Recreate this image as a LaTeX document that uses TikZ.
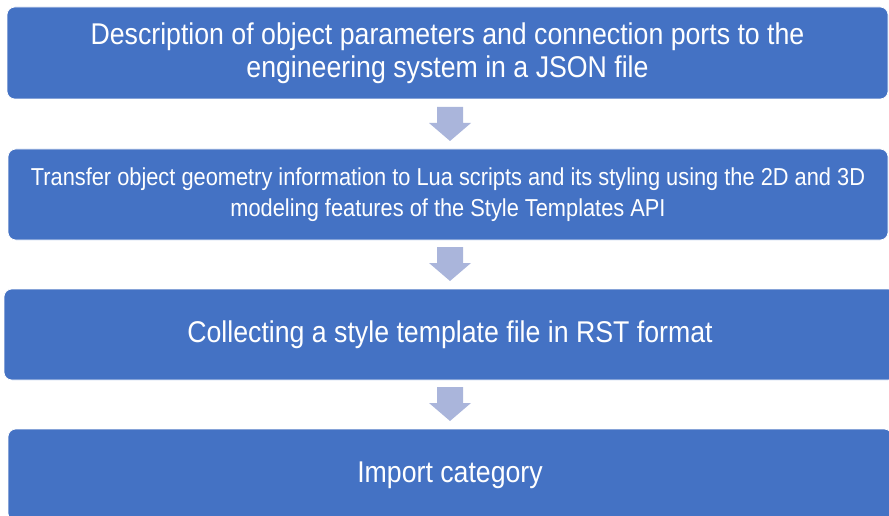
\documentclass[tikz,border=0pt]{standalone}
\usepackage{fontspec}
\newfontfamily\boxfont[FakeStretch=0.89]{Liberation Sans}
\definecolor{boxblue}{HTML}{4472C4}
\definecolor{arrowblue}{HTML}{AAB5DB}
\tikzset{
  stage/.style={fill=boxblue, draw=white, line width=0.6pt, rounded corners=8pt,
    text=white, align=center, font=\boxfont, inner sep=0pt, anchor=center},
  bigtext/.style={font=\boxfont\fontsize{30}{33}\selectfont},
  smalltext/.style={font=\boxfont\fontsize{24.5}{31}\selectfont},
  downarrow/.pic={\fill[arrowblue] (-13,0) -- (13,0) -- (13,16) -- (21,16) -- (0,34) -- (-21,16) -- (-13,16) -- cycle;}
}
\begin{document}
\begin{tikzpicture}[x=1pt, y=-1pt]
\useasboundingbox (0,0) rectangle (889,516);
\node[stage, bigtext, minimum width=881pt, minimum height=92pt] (s1) at (447.5,53)
  {Description of object parameters and connection ports to the\\engineering system in a JSON file};
\node[stage, smalltext, minimum width=880pt, minimum height=91pt] (s2) at (448,194.5)
  {Transfer object geometry information to Lua scripts and its styling using the 2D and 3D\\modeling features of the Style Templates API};
\node[stage, bigtext, minimum width=892pt, minimum height=91pt] (s3) at (450,334.5)
  {Collecting a style template file in RST format};
\node[stage, bigtext, minimum width=884pt, minimum height=92pt] (s4) at (450,475)
  {Import category};
\pic at (450,107) {downarrow};
\pic at (450,247) {downarrow};
\pic at (450,387) {downarrow};
\end{tikzpicture}
\end{document}
